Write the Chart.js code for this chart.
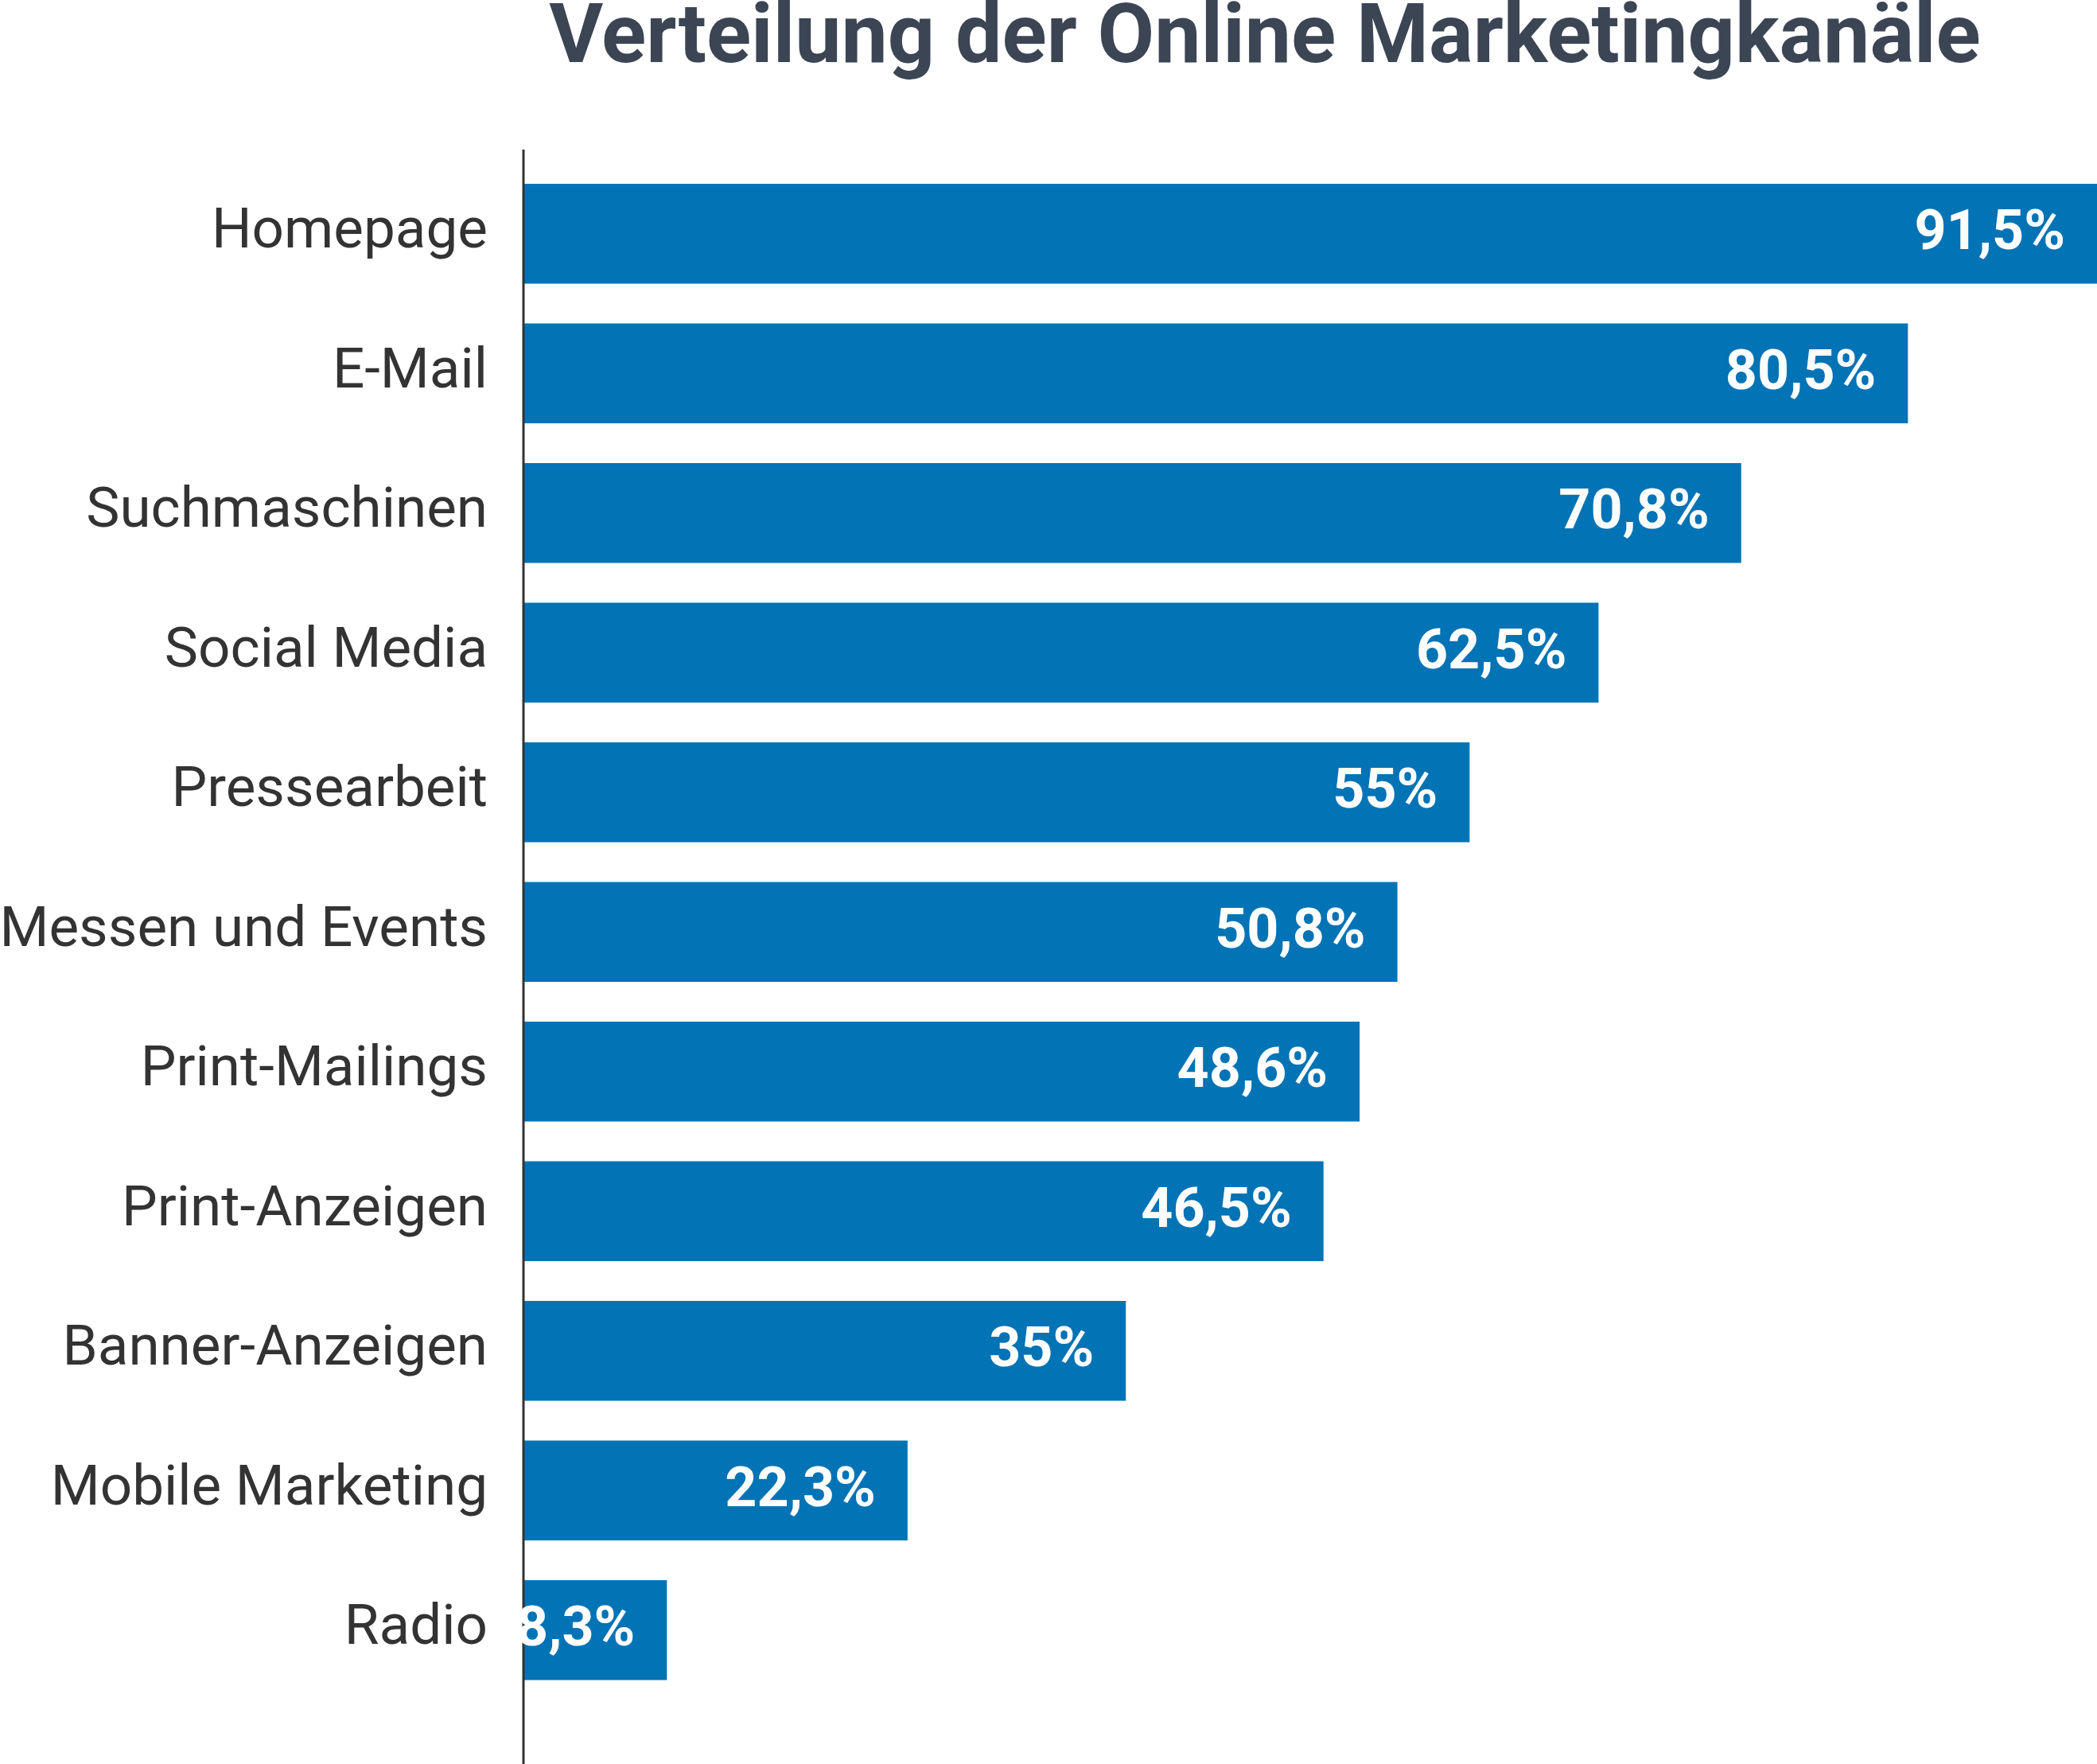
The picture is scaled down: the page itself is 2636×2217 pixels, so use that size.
<!DOCTYPE html>
<html>
<head>
<meta charset="utf-8">
<script src="https://cdn.jsdelivr.net/npm/chart.js@4"></script>
<style>
html,body{margin:0;padding:0;background:#fff;overflow:hidden;}
#wrap{width:2636px;height:2217px;}
</style>
</head>
<body>
<div id="wrap"><canvas id="myChart"></canvas></div>
<script>
var kanaele = ['Homepage','E-Mail','Suchmaschinen','Social Media','Pressearbeit','Messen und Events','Print-Mailings','Print-Anzeigen','Banner-Anzeigen','Mobile Marketing','Radio'];
var anteile = [91.5, 80.5, 70.8, 62.5, 55, 50.8, 48.6, 46.5, 35, 22.3, 8.3];
var titelText = 'Verteilung der Online Marketingkanäle';

// titel, achsenlinie und werte in den balken
var extras = {
  id: 'extras',
  afterDraw: function(chart) {
    var c = chart.ctx;
    var area = chart.chartArea;
    c.save();
    c.fillStyle = '#3b4554';
    c.font = 'bold 104px Roboto';
    c.textAlign = 'center';
    c.textBaseline = 'middle';
    c.fillText(titelText, 1590, 52);

    c.strokeStyle = '#333';
    c.lineWidth = 3;
    c.beginPath();
    c.moveTo(area.left - 1, 188);
    c.lineTo(area.left - 1, 2217);
    c.stroke();

    var meta = chart.getDatasetMeta(0);
    c.fillStyle = '#fff';
    c.font = 'bold 70px Roboto';
    c.textAlign = 'right';
    meta.data.forEach(function(bar, i) {
      var txt = String(anteile[i]).replace('.', ',') + '%';
      c.fillText(txt, bar.x - 40, bar.y + 2);
    });
    c.restore();
  }
};

var ctx = document.getElementById('myChart').getContext('2d');
new Chart(ctx, {
  type: 'bar',
  data: {
    labels: kanaele,
    datasets: [{
      data: anteile,
      backgroundColor: '#0273b5',
      barPercentage: 0.715,
      categoryPercentage: 1
    }]
  },
  options: {
    indexAxis: 'y',
    responsive: true,
    maintainAspectRatio: false,
    animation: false,
    layout: { padding: { top: 206, bottom: -50, left: 0, right: 0 } },
    plugins: { legend: { display: false }, tooltip: { enabled: false } },
    scales: {
      x: {
        min: 0, max: 91.5,
        display: false
      },
      y: {
        grid: { display: false },
        border: { display: false },
        ticks: { color: '#333', font: { family: 'Roboto', size: 71 }, padding: 38 },
        afterFit: function(scale) { scale.width = 659; }
      }
    }
  },
  plugins: [extras]
});
</script>
</body>
</html>
